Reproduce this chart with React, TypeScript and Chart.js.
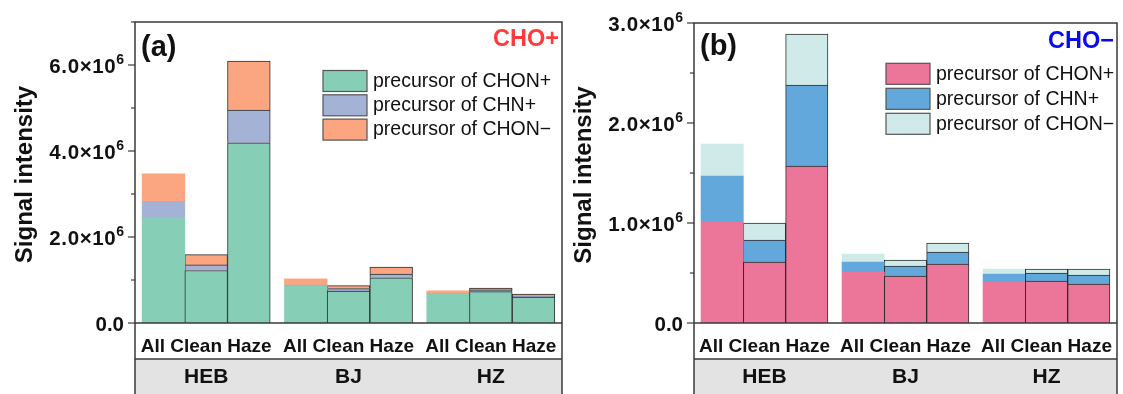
import React, { useEffect, useRef } from "react";
import { Chart, registerables } from "chart.js";

Chart.register(...registerables);

// ---------- data ----------
const sites = ["HEB", "BJ", "HZ"];
const periods = ["All", "Clean", "Haze"];
const legendLabels = ["precursor of CHON+", "precursor of CHN+", "precursor of CHON\u2212"];

// Panel (a) CHO+ : order HEB(All,Clean,Haze), BJ(...), HZ(...)
const aChonPlus = [2.45e6, 1.22e6, 4.19e6, 0.85e6, 0.74e6, 1.05e6, 0.67e6, 0.73e6, 0.6e6];
const aChnPlus = [0.38e6, 0.13e6, 0.76e6, 0.03e6, 0.06e6, 0.09e6, 0.02e6, 0.04e6, 0.025e6];
const aChonMinus = [0.64e6, 0.24e6, 1.14e6, 0.15e6, 0.07e6, 0.16e6, 0.06e6, 0.04e6, 0.05e6];

// Panel (b) CHO-
const bChonPlus = [1.01e6, 0.61e6, 1.57e6, 0.51e6, 0.47e6, 0.59e6, 0.41e6, 0.42e6, 0.39e6];
const bChnPlus = [0.46e6, 0.22e6, 0.81e6, 0.1e6, 0.1e6, 0.12e6, 0.08e6, 0.08e6, 0.09e6];
const bChonMinus = [0.32e6, 0.17e6, 0.51e6, 0.08e6, 0.06e6, 0.09e6, 0.05e6, 0.04e6, 0.06e6];

const aTickValues = [0, 2e6, 4e6, 6e6];
const aTickLabels = ["0.0", "2.0\u00d710^6", "4.0\u00d710^6", "6.0\u00d710^6"];
const aMinorStep = 1e6;
const aMax = 7e6;

const bTickValues = [0, 1e6, 2e6, 3e6];
const bTickLabels = ["0.0", "1.0\u00d710^6", "2.0\u00d710^6", "3.0\u00d710^6"];
const bMinorStep = 0.5e6;
const bMax = 3e6;

const aColors = ["#86CFB6", "#A4B2D6", "#FCA681"];
const bColors = ["#EB7699", "#63A8DB", "#D0EAEA"];

// ---------- layout helpers ----------
const GROUP_GAP = 0.05;
const BAR_W = 0.3;
const FONT = '"Liberation Sans", Arial, Helvetica, sans-serif';
const xOf = (g: number, p: number) => g + GROUP_GAP + BAR_W * (p + 0.5);

type PanelCfg = {
  left: number;
  width: number;
  height: number;
  pad: { left: number; right: number; top: number; bottom: number };
  series: number[][];
  colors: string[];
  yMax: number;
  minorStep: number;
  tickValues: number[];
  tickLabels: string[];
  tag: string;
  ion: string;
  ionColor: string;
  legendFromRight: number;
  legendTop: number;
  legendStep: number;
  tagY: number;
  ionY: number;
};

function makeDecor(cfg: PanelCfg) {
  return {
    id: "panelDecor",
    afterDraw(chart: any) {
      const ctx: any = chart.ctx;
      const ca = chart.chartArea;
      const xs = chart.scales.x;
      const ys = chart.scales.y;
      const H = chart.height;
      const split = ca.bottom + 36;
      ctx.save();
      // group label box
      ctx.fillStyle = "#e3e3e3";
      ctx.fillRect(ca.left, split, ca.right - ca.left, H - split);

      // frame
      ctx.strokeStyle = "#3a3a3a";
      ctx.lineWidth = 1.5;
      ctx.beginPath();
      ctx.moveTo(ca.left, H);
      ctx.lineTo(ca.left, ca.top);
      ctx.lineTo(ca.right, ca.top);
      ctx.lineTo(ca.right, H);
      ctx.moveTo(ca.left, ca.bottom);
      ctx.lineTo(ca.right, ca.bottom);
      ctx.moveTo(ca.left, split);
      ctx.lineTo(ca.right, split);
      ctx.stroke();

      // y ticks
      ctx.lineWidth = 1.2;
      const nMinor = Math.round(cfg.yMax / cfg.minorStep);
      for (let i = 0; i <= nMinor; i++) {
        const v = i * cfg.minorStep;
        const y = ys.getPixelForValue(v);
        const major = cfg.tickValues.some((t) => Math.abs(t - v) < 1);
        ctx.beginPath();
        ctx.moveTo(ca.left - (major ? 7 : 4), y);
        ctx.lineTo(ca.left, y);
        ctx.stroke();
      }

      // y tick labels with superscript
      ctx.fillStyle = "#111";
      ctx.textBaseline = "alphabetic";
      cfg.tickValues.forEach((v, i) => {
        const y = ys.getPixelForValue(v);
        const [mant, exp] = cfg.tickLabels[i].split("^");
        const xr = ca.left - 11;
        ctx.textAlign = "right";
        if (exp) {
          ctx.letterSpacing = "0px";
          ctx.font = `bold 14px ${FONT}`;
          const ew = ctx.measureText(exp).width;
          ctx.fillText(exp, xr, y - 1.5);
          ctx.font = `bold 20.5px ${FONT}`;
          ctx.letterSpacing = "0.6px";
          ctx.fillText(mant, xr - ew, y + 7.5);
          ctx.letterSpacing = "0px";
        } else {
          ctx.font = `bold 20.5px ${FONT}`;
          ctx.fillText(mant, xr, y + 7.5);
        }
      });

      // y title
      ctx.save();
      ctx.translate(ca.left - 110, (ca.top + ca.bottom) / 2 + 2);
      ctx.rotate(-Math.PI / 2);
      ctx.font = `bold 24px ${FONT}`;
      ctx.textAlign = "center";
      ctx.textBaseline = "middle";
      ctx.fillStyle = "#111";
      ctx.fillText("Signal intensity", 0, 0);
      ctx.restore();

      // x labels: one line per site group
      ctx.textAlign = "center";
      ctx.textBaseline = "middle";
      ctx.fillStyle = "#111";
      ctx.font = `bold 19px ${FONT}`;
      sites.forEach((_, g) => {
        ctx.fillText(periods.join(" "), xs.getPixelForValue(xOf(g, 1)), ca.bottom + 24);
      });
      ctx.font = `bold 21px ${FONT}`;
      sites.forEach((s, g) => {
        ctx.fillText(s, xs.getPixelForValue(g + 0.5), split + 18);
      });

      // panel tag and ion label
      ctx.textAlign = "left";
      ctx.font = `bold 29px ${FONT}`;
      ctx.fillText(cfg.tag, ca.left + 6, cfg.tagY);
      ctx.textAlign = "right";
      ctx.font = `bold 23.5px ${FONT}`;
      ctx.fillStyle = cfg.ionColor;
      ctx.fillText(cfg.ion, ca.right - 3, cfg.ionY);

      // legend
      const bx = ca.right - cfg.legendFromRight;
      ctx.font = `19.5px ${FONT}`;
      ctx.textAlign = "left";
      cfg.colors.forEach((c, s) => {
        const top = cfg.legendTop + s * cfg.legendStep;
        ctx.fillStyle = c;
        ctx.fillRect(bx, top, 44, 21);
        ctx.strokeStyle = "#555";
        ctx.lineWidth = 1.2;
        ctx.strokeRect(bx, top, 44, 21);
        ctx.fillStyle = "#111";
        ctx.fillText(legendLabels[s], bx + 50, top + 11);
      });
      ctx.restore();
    },
  };
}

function Panel({ cfg }: { cfg: PanelCfg }) {
  const ref = useRef<HTMLCanvasElement | null>(null);
  useEffect(() => {
    if (!ref.current) return;
    const datasets = cfg.series.map((vals, s) => ({
      label: legendLabels[s],
      data: vals.map((v, k) => ({ x: xOf(Math.floor(k / 3), k % 3), y: v })),
      backgroundColor: cfg.colors[s],
      borderColor: "#2e2e2e",
      borderWidth: vals.map((_, k) => (k % 3 === 0 ? 0 : 1)),
      barPercentage: 1,
      categoryPercentage: 1,
    }));
    const centers: number[] = [];
    sites.forEach((_, g) => periods.forEach((__, j) => centers.push(xOf(g, j))));
    const chart = new Chart(ref.current, {
      type: "bar",
      data: { datasets },
      options: {
        animation: false,
        responsive: false,
        devicePixelRatio: 1,
        layout: { padding: cfg.pad },
        plugins: { legend: { display: false }, tooltip: { enabled: false }, title: { display: false } },
        scales: {
          x: {
            type: "linear",
            min: 0,
            max: sites.length,
            stacked: true,
            offset: false,
            display: false,
            afterBuildTicks: (scale: any) => {
              scale.ticks = centers.map((v) => ({ value: v }));
            },
          },
          y: { type: "linear", min: 0, max: cfg.yMax, stacked: true, display: false },
        },
      } as any,
      plugins: [makeDecor(cfg)],
    });
    return () => chart.destroy();
  }, [cfg]);
  return (
    <canvas
      ref={ref}
      width={cfg.width}
      height={cfg.height}
      style={{ position: "absolute", left: cfg.left, top: 0, width: cfg.width, height: cfg.height, display: "block" }}
    />
  );
}

const panelA: PanelCfg = {
  left: 0,
  width: 565,
  height: 394,
  pad: { left: 135, right: 3, top: 22, bottom: 71 },
  series: [aChonPlus, aChnPlus, aChonMinus],
  colors: aColors,
  yMax: aMax,
  minorStep: aMinorStep,
  tickValues: aTickValues,
  tickLabels: aTickLabels,
  tag: "(a)",
  ion: "CHO+",
  ionColor: "#FF3A3A",
  legendFromRight: 239,
  legendTop: 70.5,
  legendStep: 24.3,
  tagY: 48,
  ionY: 40,
};

const panelB: PanelCfg = {
  left: 565,
  width: 558,
  height: 394,
  pad: { left: 129, right: 6, top: 23, bottom: 71 },
  series: [bChonPlus, bChnPlus, bChonMinus],
  colors: bColors,
  yMax: bMax,
  minorStep: bMinorStep,
  tickValues: bTickValues,
  tickLabels: bTickLabels,
  tag: "(b)",
  ion: "CHO\u2212",
  ionColor: "#0A0AF0",
  legendFromRight: 231,
  legendTop: 63.3,
  legendStep: 25,
  tagY: 47,
  ionY: 42,
};

export default function App() {
  return (
    <div style={{ position: "fixed", left: 0, top: 0, width: 1123, height: 394, background: "#fff", overflow: "hidden" }}>
      <Panel cfg={panelA} />
      <Panel cfg={panelB} />
    </div>
  );
}
